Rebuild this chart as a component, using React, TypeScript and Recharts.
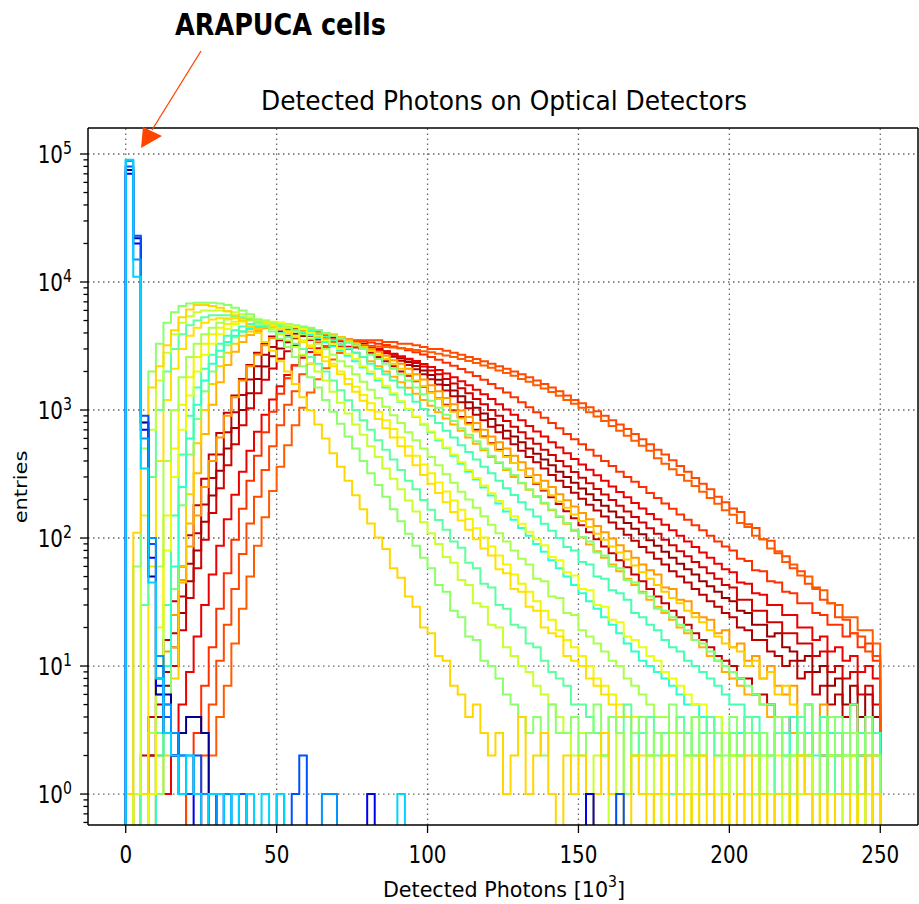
import { LineChart, Line, XAxis, YAxis, ReferenceLine } from 'recharts';

// histogram settings: 100 bins of 2.5 (x 10^3 photons) from 0 to 250
const BIN_WIDTH = 2.5;
const FLOOR = 0.3; // empty bins are drawn below the axis floor (clipped), like log-scale step hists

const X_DOMAIN = [-12.5, 262.5];
const Y_DOMAIN = [0.573, 159600];
const xTicks = [0, 50, 100, 150, 200, 250];
const yMajorTicks = [1, 10, 100, 1000, 10000, 100000];

// ---- ARAPUCA cells (cool colours) ----
const arapucaNavy = [75000, 22000, 800, 50, 6, 6, 2, 3, 4, 4, 3, 1, 0, 0, 0, 0, 0, 0, 0, 0, 0, 0, 0, 0, 0, 0, 0, 0, 0, 0, 0, 0, 0, 0, 0, 0, 0, 0, 0, 0, 0, 0, 0, 0, 0, 0, 0, 0, 0, 0, 0, 0, 0, 0, 0, 0, 0, 0, 0, 0, 0, 0, 0, 0, 0, 0, 0, 0, 0, 0, 0, 0, 0, 0, 0, 0, 0, 0, 0, 0, 0, 0, 0, 0, 0, 0, 0, 0, 0, 0, 0, 0, 0, 0, 0, 0, 0, 0, 0, 0];
const arapucaBlue = [70000, 20000, 700, 70, 7, 3, 2, 1, 1, 0, 1, 0, 1, 0, 0, 0, 0, 0, 0, 0, 0, 0, 0, 0, 0, 0, 0, 0, 0, 0, 0, 0, 1, 0, 0, 0, 0, 0, 0, 0, 0, 0, 0, 0, 0, 0, 0, 0, 0, 0, 0, 0, 0, 0, 0, 0, 0, 0, 0, 0, 0, 1, 0, 0, 0, 0, 0, 0, 0, 0, 0, 0, 0, 0, 0, 0, 0, 0, 0, 0, 0, 0, 0, 0, 0, 0, 0, 0, 0, 0, 0, 0, 0, 0, 0, 0, 0, 0, 0, 0];
const arapucaMid = [80000, 23000, 900, 90, 10, 4, 3, 2, 1, 2, 1, 0, 1, 1, 0, 1, 0, 0, 0, 0, 0, 0, 1, 2, 0, 0, 0, 0, 0, 0, 0, 0, 0, 0, 0, 0, 0, 0, 0, 0, 0, 0, 0, 0, 0, 0, 0, 0, 0, 0, 0, 0, 0, 0, 0, 0, 0, 0, 0, 0, 0, 0, 0, 0, 0, 1, 0, 0, 0, 0, 0, 0, 0, 0, 0, 0, 0, 0, 0, 0, 0, 0, 0, 0, 0, 0, 0, 0, 0, 0, 0, 0, 0, 0, 0, 0, 0, 0, 0, 0];
const arapucaLight = [88000, 15000, 600, 100, 12, 5, 3, 2, 2, 1, 1, 1, 0, 1, 0, 0, 1, 0, 0, 0, 1, 0, 0, 0, 0, 0, 1, 1, 0, 0, 0, 0, 0, 0, 0, 0, 0, 0, 0, 0, 0, 0, 0, 0, 0, 0, 0, 0, 0, 0, 0, 0, 0, 0, 0, 0, 0, 0, 0, 0, 0, 0, 0, 0, 0, 0, 0, 0, 0, 0, 0, 0, 0, 0, 0, 0, 0, 0, 0, 0, 0, 0, 0, 0, 0, 0, 0, 0, 0, 0, 0, 0, 0, 0, 0, 0, 0, 0, 0, 0];
const arapucaCyan = [90000, 11000, 350, 45, 8, 3, 2, 1, 2, 1, 0, 1, 1, 0, 1, 0, 1, 0, 1, 0, 1, 0, 0, 0, 0, 0, 0, 0, 0, 0, 0, 0, 0, 0, 0, 0, 1, 0, 0, 0, 0, 0, 0, 0, 0, 0, 0, 0, 0, 0, 0, 0, 0, 0, 0, 0, 0, 0, 0, 0, 0, 0, 0, 0, 0, 0, 0, 0, 0, 0, 0, 0, 0, 0, 0, 0, 0, 0, 0, 0, 0, 0, 0, 0, 0, 0, 0, 0, 0, 0, 0, 0, 0, 0, 0, 0, 0, 0, 0, 0];

// ---- late, broad detectors (reds / oranges) ----
const darkRed = [0, 0, 1, 2, 4, 7, 14, 26, 46, 80,
  134, 215, 335, 500, 725, 1000, 1350, 1750, 2190, 2630,
  3020, 3390, 3630, 3790, 3800, 3780, 3740, 3680, 3610, 3520,
  3410, 3290, 3150, 3010, 2860, 2700, 2540, 2370, 2210, 2040,
  1880, 1720, 1570, 1420, 1280, 1150, 1040, 940, 850, 760,
  690, 620, 560, 500, 455, 410, 370, 330, 300, 270,
  244, 220, 198, 179, 161, 145, 131, 118, 107, 96,
  87, 78, 70, 63, 57, 52, 46, 42, 38, 34,
  32, 27, 26, 21, 21, 17, 18, 14, 13, 11,
  12, 9, 10, 7, 8, 5, 7, 4, 6, 4];
const red3 = [0, 0, 1, 2, 5, 9, 18, 35, 63, 109,
  183, 295, 450, 670, 960, 1310, 1730, 2200, 2700, 3100,
  3500, 3800, 3950, 4000, 3950, 3900, 3850, 3770, 3670, 3550,
  3420, 3270, 3120, 2950, 2780, 2610, 2430, 2250, 2080, 1900,
  1740, 1580, 1420, 1280, 1150, 1030, 920, 830, 740, 670,
  600, 540, 480, 430, 390, 350, 310, 280, 250, 226,
  203, 182, 164, 147, 132, 118, 106, 95, 85, 77,
  69, 62, 55, 50, 45, 40, 36, 32, 29, 26,
  24, 20, 19, 16, 16, 13, 12, 10, 11, 8,
  9, 6, 7, 5, 6, 4, 5, 3, 4, 3];
const red2 = [0, 0, 1, 1, 3, 5, 10, 19, 34, 58,
  97, 157, 245, 370, 540, 760, 1030, 1350, 1720, 2110,
  2510, 2880, 3190, 3410, 3530, 3550, 3530, 3500, 3450, 3390,
  3310, 3220, 3120, 3000, 2880, 2750, 2620, 2480, 2330, 2190,
  2040, 1900, 1750, 1610, 1480, 1350, 1220, 1110, 1000, 900,
  820, 740, 670, 600, 545, 490, 445, 400, 363, 328,
  296, 268, 242, 219, 198, 179, 161, 146, 132, 119,
  108, 97, 88, 79, 72, 65, 59, 53, 48, 43,
  41, 33, 33, 27, 27, 22, 22, 18, 18, 15,
  15, 12, 13, 9, 10, 8, 9, 6, 7, 5];
const red5 = [0, 1, 2, 4, 8, 16, 32, 60, 105, 180,
  290, 450, 660, 950, 1300, 1750, 2250, 2800, 3300, 3750,
  4100, 4300, 4300, 4250, 4150, 4050, 3900, 3750, 3600, 3400,
  3200, 3000, 2800, 2600, 2400, 2200, 2000, 1850, 1680, 1520,
  1370, 1230, 1100, 990, 880, 790, 700, 620, 550, 490,
  435, 385, 340, 300, 265, 235, 208, 184, 162, 143,
  126, 111, 98, 86, 76, 67, 59, 52, 46, 40,
  35, 31, 27, 24, 21, 18, 16, 14, 12, 11,
  10, 8, 8, 6, 6, 5, 4, 4, 3, 3,
  2, 3, 2, 1, 2, 1, 1, 2, 0, 1];
const red4 = [0, 0, 0, 0, 1, 1, 2, 5, 9, 17,
  30, 52, 87, 140, 218, 330, 480, 675, 920, 1210,
  1530, 1880, 2240, 2560, 2840, 3040, 3150, 3160, 3150, 3120,
  3080, 3030, 2970, 2900, 2820, 2720, 2620, 2520, 2410, 2290,
  2170, 2050, 1930, 1800, 1680, 1560, 1440, 1330, 1220, 1110,
  1010, 920, 830, 750, 680, 620, 560, 510, 460, 415,
  376, 341, 309, 280, 253, 229, 208, 188, 170, 154,
  140, 127, 115, 104, 94, 85, 77, 70, 63, 57,
  54, 45, 44, 37, 36, 30, 30, 25, 25, 20,
  20, 16, 17, 13, 14, 11, 12, 9, 10, 8];
const orange1 = [0, 0, 1, 3, 6, 13, 25, 47, 86, 150,
  250, 400, 610, 900, 1260, 1700, 2200, 2700, 3200, 3650,
  4000, 4150, 4200, 4150, 4100, 4000, 3900, 3800, 3700, 3550,
  3400, 3200, 3000, 2850, 2650, 2450, 2300, 2100, 1900, 1730,
  1560, 1400, 1240, 1110, 990, 880, 790, 700, 620, 560,
  500, 440, 390, 350, 310, 280, 250, 220, 197, 176,
  157, 140, 124, 111, 99, 88, 79, 70, 62, 56,
  52, 41, 40, 33, 32, 26, 24, 23, 18, 19,
  14, 15, 11, 12, 8, 10, 7, 6, 7, 4,
  5, 3, 5, 2, 3, 2, 1, 3, 1, 2];
const orange2 = [0, 0, 0, 1, 2, 5, 14, 45, 130, 320,
  650, 1100, 1650, 2250, 2850, 3400, 3850, 4150, 4350, 4400,
  4400, 4350, 4250, 4100, 3950, 3800, 3600, 3400, 3200, 3000,
  2800, 2600, 2400, 2200, 2000, 1820, 1650, 1490, 1340, 1200,
  1080, 960, 860, 770, 690, 610, 545, 485, 430, 385,
  340, 300, 268, 238, 210, 186, 165, 146, 129, 114,
  101, 89, 79, 70, 62, 55, 48, 43, 38, 33,
  29, 26, 23, 20, 18, 16, 14, 12, 11, 9,
  8, 7, 6, 6, 5, 4, 4, 3, 3, 2,
  2, 3, 1, 2, 1, 1, 2, 0, 1, 1];
const orangeRed3 = [0, 0, 0, 0, 0, 0, 0, 0, 1, 3,
  7, 14, 28, 53, 97, 169, 280, 440, 670, 970,
  1340, 1770, 2230, 2680, 3070, 3370, 3530, 3550, 3540, 3510,
  3470, 3430, 3370, 3300, 3220, 3130, 3040, 2930, 2820, 2710,
  2590, 2470, 2340, 2220, 2090, 1970, 1840, 1720, 1600, 1480,
  1370, 1260, 1150, 1050, 960, 870, 790, 720, 650, 590,
  540, 490, 440, 400, 365, 330, 300, 275, 250, 225,
  205, 186, 169, 153, 139, 126, 115, 104, 94, 86,
  80, 69, 66, 56, 55, 46, 45, 38, 37, 31,
  31, 26, 25, 21, 21, 17, 18, 14, 15, 11];
const orangeRed1 = [0, 0, 0, 0, 0, 0, 0, 0, 1, 1,
  2, 5, 11, 21, 40, 75, 130, 210, 340, 520,
  760, 1100, 1400, 1900, 2300, 2700, 3100, 3400, 3500, 3500,
  3500, 3500, 3500, 3500, 3400, 3400, 3300, 3300, 3200, 3100,
  3000, 3000, 2900, 2800, 2700, 2600, 2500, 2400, 2300, 2200,
  2100, 2000, 1900, 1800, 1700, 1600, 1500, 1400, 1300, 1200,
  1130, 1050, 980, 900, 830, 770, 710, 650, 590, 540,
  490, 450, 405, 365, 330, 295, 265, 240, 210, 190,
  170, 160, 128, 120, 98, 95, 76, 72, 58, 55,
  44, 41, 33, 31, 24, 23, 18, 17, 13, 12];
const orangeRed2 = [0, 0, 0, 0, 0, 0, 0, 0, 0, 0,
  1, 2, 4, 7, 15, 28, 50, 87, 145, 233,
  360, 530, 760, 1040, 1370, 1740, 2120, 2480, 2790, 3030,
  3150, 3160, 3150, 3140, 3110, 3080, 3040, 3000, 2940, 2880,
  2820, 2750, 2670, 2590, 2500, 2420, 2330, 2230, 2140, 2040,
  1950, 1850, 1750, 1660, 1560, 1470, 1380, 1290, 1200, 1120,
  1040, 960, 890, 820, 750, 690, 630, 575, 525, 480,
  420, 380, 345, 310, 280, 255, 230, 205, 185, 165,
  152, 131, 122, 104, 98, 83, 79, 65, 62, 51,
  50, 40, 39, 31, 30, 24, 24, 19, 19, 15];

// ---- mid detectors (greens / yellows) ----
const gold5 = [0, 0, 1, 0, 1, 2, 8, 60, 220, 550,
  1000, 1600, 2200, 2800, 3300, 3800, 4100, 4300, 4500, 4600,
  4600, 4500, 4500, 4400, 4300, 4200, 4000, 3900, 3700, 3500,
  3300, 3100, 2900, 2700, 2500, 2300, 2100, 1900, 1700, 1530,
  1360, 1220, 1080, 970, 860, 770, 680, 610, 540, 480,
  430, 385, 340, 305, 270, 240, 216, 193, 172, 153,
  136, 122, 108, 97, 86, 77, 68, 61, 54, 48,
  43, 38, 34, 31, 27, 24, 22, 19, 17, 15,
  14, 13, 10, 11, 8, 9, 6, 7, 5, 4,
  5, 3, 4, 2, 3, 1, 2, 3, 1, 2];
const green4 = [0, 0, 0, 0, 1, 5, 40, 180, 450, 850,
  1400, 2000, 2600, 3200, 3700, 4100, 4400, 4600, 4800, 4800,
  4800, 4700, 4600, 4500, 4400, 4200, 4000, 3800, 3600, 3400,
  3200, 3000, 2700, 2500, 2300, 2100, 1900, 1700, 1500, 1330,
  1180, 1040, 920, 820, 720, 640, 570, 500, 440, 390,
  350, 310, 270, 240, 213, 189, 167, 148, 131, 116,
  102, 94, 77, 73, 60, 58, 47, 45, 37, 35,
  28, 27, 24, 21, 19, 16, 15, 13, 11, 10,
  9, 8, 7, 6, 5, 5, 4, 4, 4, 3,
  5, 3, 4, 2, 4, 3, 5, 3, 4, 3];
const cyanGreen = [0, 0, 0, 0, 2, 10, 60, 250, 600, 1100,
  1700, 2300, 2900, 3400, 3800, 4100, 4300, 4450, 4500, 4500,
  4450, 4350, 4200, 4050, 3850, 3650, 3400, 3150, 2900, 2650,
  2400, 2150, 1920, 1700, 1500, 1320, 1160, 1010, 880, 770,
  670, 580, 505, 440, 380, 330, 286, 248, 215, 186,
  161, 139, 120, 104, 90, 78, 67, 58, 50, 43,
  37, 32, 28, 24, 21, 18, 15, 13, 11, 10,
  9, 8, 7, 6, 5, 5, 4, 3, 4, 3,
  2, 3, 4, 2, 3, 1, 3, 2, 4, 2,
  3, 2, 1, 3, 2, 2, 3, 1, 2, 3];
const aqua3 = [0, 0, 0, 1, 3, 30, 150, 450, 900, 1500,
  2100, 2700, 3300, 3800, 4200, 4500, 4700, 4800, 4800, 4800,
  4700, 4600, 4500, 4300, 4150, 3950, 3750, 3500, 3300, 3050,
  2800, 2600, 2300, 2100, 1900, 1700, 1500, 1320, 1160, 1020,
  900, 790, 690, 610, 530, 470, 410, 360, 320, 280,
  245, 217, 190, 167, 147, 129, 114, 100, 85, 80,
  65, 62, 50, 48, 39, 37, 33, 26, 24, 21,
  19, 16, 14, 13, 11, 10, 9, 8, 7, 6,
  5, 5, 4, 4, 3, 2, 4, 3, 2, 3,
  1, 3, 4, 2, 3, 2, 1, 3, 2, 3];
const yellow2 = [0, 1, 0, 1, 10, 80, 300, 700, 1300, 2000,
  2700, 3300, 3900, 4300, 4700, 4900, 5000, 5000, 5000, 4900,
  4800, 4600, 4500, 4300, 4000, 3800, 3500, 3300, 3000, 2750,
  2500, 2200, 2000, 1760, 1550, 1350, 1170, 1020, 890, 780,
  680, 590, 510, 450, 390, 340, 295, 257, 224, 195,
  170, 148, 129, 112, 98, 88, 71, 67, 54, 51,
  40, 39, 30, 29, 23, 22, 17, 16, 14, 12,
  11, 9, 8, 7, 6, 5, 5, 4, 4, 3,
  2, 1, 0, 1, 2, 0, 1, 1, 0, 2,
  1, 0, 1, 1, 0, 1, 2, 0, 1, 1];
const yellow3 = [0, 0, 1, 1, 20, 150, 500, 1100, 1800, 2600,
  3300, 3900, 4400, 4700, 4900, 5000, 5000, 4900, 4800, 4600,
  4400, 4100, 3800, 3500, 3200, 2900, 2600, 2300, 2000, 1750,
  1520, 1310, 1130, 970, 830, 710, 610, 520, 440, 375,
  320, 272, 231, 196, 166, 141, 119, 101, 86, 73,
  62, 52, 44, 38, 32, 27, 23, 19, 16, 14,
  12, 10, 8, 7, 6, 5, 4, 4, 3, 2,
  3, 1, 2, 1, 0, 2, 1, 1, 0, 1,
  2, 1, 0, 1, 1, 0, 2, 1, 0, 1,
  1, 0, 1, 2, 0, 1, 0, 1, 1, 0];
const lime1 = [0, 0, 1, 3, 60, 400, 1000, 1800, 2600, 3300,
  3900, 4400, 4800, 5100, 5200, 5200, 5200, 5100, 5000, 4800,
  4600, 4400, 4100, 3900, 3600, 3300, 3000, 2700, 2400, 2200,
  1900, 1660, 1440, 1240, 1060, 910, 790, 670, 580, 500,
  430, 370, 315, 270, 230, 200, 172, 148, 127, 109,
  94, 80, 69, 62, 48, 46, 35, 34, 26, 25,
  19, 17, 15, 13, 11, 10, 8, 7, 6, 5,
  4, 4, 3, 3, 2, 4, 2, 3, 1, 3,
  2, 2, 4, 1, 3, 2, 3, 1, 2, 3,
  2, 1, 3, 2, 2, 1, 3, 2, 1, 2];
const yellow1 = [1, 0, 1, 60, 400, 1200, 2100, 3000, 3800, 4400,
  4800, 5100, 5200, 5200, 5200, 5200, 5100, 4900, 4800, 4500,
  4300, 4000, 3700, 3400, 3100, 2800, 2400, 2200, 1900, 1600,
  1390, 1180, 1000, 850, 720, 610, 520, 440, 370, 310,
  265, 225, 190, 160, 137, 116, 98, 83, 73, 57,
  53, 40, 38, 29, 27, 20, 18, 17, 12, 11,
  10, 8, 7, 6, 5, 4, 4, 3, 2, 1,
  0, 1, 2, 1, 0, 1, 1, 0, 2, 1,
  0, 1, 0, 2, 1, 0, 1, 1, 0, 1,
  2, 0, 1, 0, 1, 1, 0, 1, 0, 1];
const aqua4 = [0, 0, 30, 300, 1000, 2000, 3000, 3900, 4600, 5000,
  5300, 5500, 5500, 5500, 5400, 5300, 5100, 4900, 4600, 4300,
  4000, 3700, 3300, 3000, 2600, 2300, 2000, 1700, 1430, 1190,
  1000, 830, 700, 580, 490, 410, 340, 280, 240, 198,
  166, 138, 116, 94, 84, 64, 58, 44, 41, 30,
  28, 21, 20, 15, 14, 11, 9, 8, 7, 5,
  5, 4, 3, 2, 4, 3, 5, 2, 3, 4,
  2, 3, 1, 4, 3, 2, 3, 4, 2, 1,
  3, 2, 4, 3, 2, 1, 3, 2, 2, 4,
  1, 3, 2, 1, 3, 2, 1, 2, 3, 1];
const lime3 = [0, 1, 150, 700, 1700, 2800, 3900, 4800, 5400, 5800,
  6000, 6000, 6000, 5900, 5800, 5600, 5300, 5000, 4700, 4300,
  3900, 3500, 3100, 2700, 2300, 2000, 1700, 1390, 1140, 940,
  770, 640, 520, 430, 350, 290, 240, 196, 161, 133,
  109, 90, 71, 64, 47, 43, 31, 29, 21, 20,
  14, 12, 10, 9, 7, 6, 5, 4, 3, 2,
  3, 1, 2, 2, 0, 3, 1, 2, 1, 2,
  0, 1, 3, 1, 2, 0, 2, 1, 1, 3,
  0, 2, 1, 0, 2, 1, 1, 0, 2, 1,
  2, 0, 1, 1, 0, 2, 1, 0, 1, 1];
const green2 = [1, 60, 500, 2000, 3300, 4800, 5800, 6500, 6800, 6900,
  6900, 6900, 6800, 6600, 6300, 6000, 5600, 5100, 4600, 4100,
  3600, 3100, 2600, 2200, 1800, 1500, 1200, 970, 780, 620,
  500, 400, 320, 260, 210, 168, 135, 108, 87, 70,
  58, 43, 38, 27, 24, 17, 16, 11, 10, 8,
  6, 5, 4, 3, 4, 2, 5, 3, 3, 4,
  2, 3, 5, 2, 4, 3, 1, 3, 4, 2,
  3, 2, 5, 3, 2, 4, 1, 3, 3, 2,
  4, 2, 3, 1, 3, 2, 4, 2, 1, 3,
  2, 3, 1, 4, 2, 3, 2, 1, 3, 2];
const gold1 = [1, 110, 800, 1500, 2200, 3200, 4200, 5300, 6100, 6600,
  6600, 6500, 6300, 5900, 5500, 5000, 4500, 4000, 3400, 2900,
  2400, 2000, 1600, 1260, 990, 770, 600, 460, 360, 280,
  216, 168, 130, 101, 82, 58, 49, 35, 29, 20,
  18, 12, 11, 7, 6, 4, 5, 3, 2, 3,
  1, 2, 4, 1, 2, 3, 1, 0, 2, 1,
  2, 0, 1, 3, 1, 1, 0, 2, 1, 0,
  1, 2, 0, 1, 1, 0, 2, 1, 0, 1,
  0, 1, 2, 0, 1, 0, 1, 1, 0, 2,
  1, 0, 1, 0, 1, 1, 0, 1, 2, 1];

// drawing order: reds underneath, greens/yellows over them, ARAPUCA cells last
const series = [
  { name: 'darkRed', counts: darkRed, color: '#9b0000' },
  { name: 'red3', counts: red3, color: '#b80000' },
  { name: 'red2', counts: red2, color: '#d20000' },
  { name: 'red5', counts: red5, color: '#c20000' },
  { name: 'red4', counts: red4, color: '#ec0000' },
  { name: 'orange1', counts: orange1, color: '#ff9a00' },
  { name: 'orange2', counts: orange2, color: '#ffb000' },
  { name: 'orangeRed3', counts: orangeRed3, color: '#ff3000' },
  { name: 'orangeRed1', counts: orangeRed1, color: '#ff4800' },
  { name: 'orangeRed2', counts: orangeRed2, color: '#ff5c00' },
  { name: 'gold5', counts: gold5, color: '#ffcc00' },
  { name: 'green4', counts: green4, color: '#80ff77' },
  { name: 'cyanGreen', counts: cyanGreen, color: '#2bffcc' },
  { name: 'aqua3', counts: aqua3, color: '#46ffb1' },
  { name: 'yellow2', counts: yellow2, color: '#e8ff0f' },
  { name: 'yellow3', counts: yellow3, color: '#f4f400' },
  { name: 'lime1', counts: lime1, color: '#a8ff4e' },
  { name: 'yellow1', counts: yellow1, color: '#ffe100' },
  { name: 'aqua4', counts: aqua4, color: '#5effa0' },
  { name: 'lime3', counts: lime3, color: '#c8ff2f' },
  { name: 'green2', counts: green2, color: '#8cff6a' },
  { name: 'gold1', counts: gold1, color: '#ffd700' },
  { name: 'arapucaNavy', counts: arapucaNavy, color: '#000090' },
  { name: 'arapucaBlue', counts: arapucaBlue, color: '#0000f0' },
  { name: 'arapucaMid', counts: arapucaMid, color: '#0050ff' },
  { name: 'arapucaLight', counts: arapucaLight, color: '#0094ff' },
  { name: 'arapucaCyan', counts: arapucaCyan, color: '#00d4ff' },
];

// step outline like matplotlib histtype='step'
function toSteps(counts: number[]) {
  const pts = [{ x: 0, y: FLOOR }];
  counts.forEach((c, i) => pts.push({ x: i * BIN_WIDTH, y: c > 0 ? c : FLOOR }));
  pts.push({ x: counts.length * BIN_WIDTH, y: FLOOR });
  return pts;
}

// major + minor log ticks
const yAllTicks: number[] = [];
for (let e = -1; e <= 5; e++) {
  for (let m = 1; m <= 9; m++) {
    const v = m * Math.pow(10, e);
    if (v >= 0.58 && v <= 150000) yAllTicks.push(v);
  }
}

const FONT = 'DejaVu Sans';
const SQUEEZE = 0.83;

const XTick = ({ x, y, payload }: any) => (
  <g transform={`translate(${x},${y + 17.5}) scale(${SQUEEZE},1)`}>
    <text textAnchor="middle" fontSize={24} fontFamily={FONT} fill="#000">
      {payload.value}
    </text>
  </g>
);

const YTick = ({ x, y, payload }: any) => {
  const v = payload.value;
  const lg = Math.log10(v);
  const major = Math.abs(lg - Math.round(lg)) < 1e-6;
  return (
    <g>
      <line x1={x - (major ? 8 : 4.5)} x2={x} y1={y} y2={y} stroke="#000" strokeWidth={1.3} />
      {major && (
        <g transform={`translate(${x - 16},${y + 9}) scale(${SQUEEZE},1)`}>
          <text textAnchor="end" fontSize={24} fontFamily={FONT} fill="#000">
            10
            <tspan fontSize={17} dy={-9}>{Math.round(lg)}</tspan>
          </text>
        </g>
      )}
    </g>
  );
};

const axisStroke = { stroke: '#000', strokeWidth: 1.5 };
const gridProps = { stroke: '#666', strokeDasharray: '1.5 3.5', strokeWidth: 1.3 };

export default function App() {
  return (
    <div style={{ position: 'absolute', left: 0, top: 0, width: 919, height: 904, background: '#fff' }}>
      <LineChart width={919} height={904} margin={{ top: 128, right: 1, bottom: 0, left: 0 }}>
        <XAxis
          dataKey="x"
          type="number"
          domain={X_DOMAIN}
          ticks={xTicks}
          allowDataOverflow
          height={79}
          tickSize={8}
          tickMargin={12}
          axisLine={axisStroke}
          tickLine={{ stroke: '#000', strokeWidth: 1.3 }}
          tick={<XTick />}
          interval={0}
        />
        <YAxis
          type="number"
          scale="log"
          domain={Y_DOMAIN}
          ticks={yAllTicks}
          allowDataOverflow
          width={88}
          tickSize={0}
          tickMargin={0}
          interval={0}
          axisLine={axisStroke}
          tickLine={false}
          tick={<YTick />}
        />
        {yMajorTicks.map((v) => (
          <ReferenceLine key={`gy${v}`} y={v} {...gridProps} />
        ))}
        {xTicks.map((v) => (
          <ReferenceLine key={`gx${v}`} x={v} {...gridProps} />
        ))}
        {series.map((s) => (
          <Line
            key={s.name}
            data={toSteps(s.counts)}
            dataKey="y"
            type="stepAfter"
            stroke={s.color}
            strokeWidth={2}
            dot={false}
            activeDot={false}
            isAnimationActive={false}
          />
        ))}
        {/* top and right spines of the axes box */}
        <ReferenceLine y={Y_DOMAIN[1]} stroke="#000" strokeWidth={1.5} />
        <ReferenceLine x={X_DOMAIN[1]} stroke="#000" strokeWidth={1.5} />
      </LineChart>
      <svg width={919} height={904} style={{ position: 'absolute', left: 0, top: 0, pointerEvents: 'none' }}>
        <text x={504} y={110} textAnchor="middle" fontSize={27} fontFamily={FONT} textLength={486} lengthAdjust="spacingAndGlyphs">
          Detected Photons on Optical Detectors
        </text>
        <text x={175} y={35} fontSize={31} fontWeight="bold" fontFamily={FONT} textLength={211} lengthAdjust="spacingAndGlyphs">
          ARAPUCA cells
        </text>
        <line x1={201} y1={51} x2={152} y2={130} stroke="#ff4400" strokeWidth={1.3} />
        <polygon points="141,148 143,127 162,136" fill="#ff4400" />
        <g transform="translate(504,897) scale(0.94,1)">
          <text textAnchor="middle" fontSize={22} fontFamily={FONT}>
            Detected Photons [10<tspan fontSize={15} dy={-10}>3</tspan><tspan dy={10}>]</tspan>
          </text>
        </g>
        <g transform="translate(27,487) scale(0.88,1) rotate(-90)">
          <text x={0} y={0} textAnchor="middle" fontSize={21} fontFamily={FONT}>
            entries
          </text>
        </g>
      </svg>
    </div>
  );
}
